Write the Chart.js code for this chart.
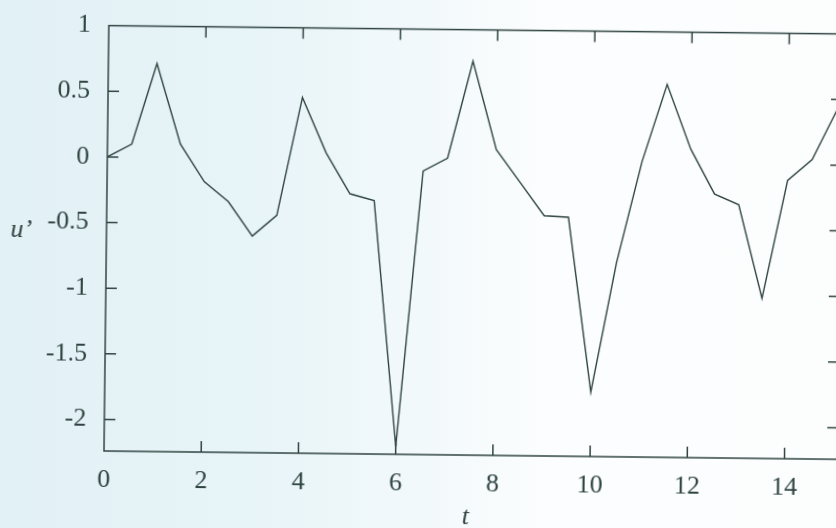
<!DOCTYPE html>
<html>
<head>
<meta charset="utf-8">
<script src="https://cdn.jsdelivr.net/npm/chart.js@4.4.1/dist/chart.umd.min.js"></script>
<style>
    html, body { margin: 0; padding: 0; overflow: hidden; width: 836px; height: 528px; }
    body { background: linear-gradient(90deg, #e2f1f6 0%, #e7f4f8 30%, #f2f9fb 50%, #fbfdfe 65%, #fcfefe 100%); }
    /* the reference is a slightly skewed scan, so tilt the page a little */
    canvas { display: block; transform-origin: 104px 451px; transform: rotate(0.65deg); }
</style>
</head>
<body>
<canvas id="chart" width="840" height="528"></canvas>
<script>
// t samples (every 0.5) and the u' values
const tValues = [0, 0.5, 1, 1.5, 2, 2.5, 3, 3.5, 4, 4.5, 5, 5.5, 6, 6.5, 7, 7.5,
    8, 8.5, 9, 9.5, 10, 10.5, 11, 11.5, 12, 12.5, 13, 13.5, 14, 14.5, 15];
const uValues = [0, 0.1, 0.715, 0.105, -0.18, -0.33, -0.59, -0.43, 0.47, 0.05, -0.26, -0.31, -2.18, -0.08, 0.02, 0.76,
    0.09, -0.16, -0.41, -0.42, -1.75, -0.76, 0.01, 0.6, 0.11, -0.23, -0.31, -1.02, -0.12, 0.04, 0.42];
const xTicks = [2, 4, 6, 8, 10, 12, 14];
const yTicks = [-2, -1.5, -1, -0.5, 0, 0.5];

const ink = "#2f4441";
const serif = "'Liberation Serif', 'DejaVu Serif', serif";

// gnuplot-like frame with inward ticks on all four sides, plus the axis names
const framePlugin = {
    id: "frame",
    afterDraw(chart) {
        const { ctx, chartArea: a, scales } = chart;
        const len = 11;
        ctx.save();
        ctx.strokeStyle = ink;
        ctx.lineWidth = 1.5;
        ctx.strokeRect(a.left, a.top, a.right - a.left, a.bottom - a.top);
        ctx.beginPath();
        for (const v of xTicks) {
            const x = scales.x.getPixelForValue(v);
            ctx.moveTo(x, a.bottom);
            ctx.lineTo(x, a.bottom - len);
            ctx.moveTo(x, a.top);
            ctx.lineTo(x, a.top + len);
        }
        for (const v of yTicks) {
            const y = scales.y.getPixelForValue(v);
            ctx.moveTo(a.left, y);
            ctx.lineTo(a.left + len, y);
            ctx.moveTo(a.right, y);
            ctx.lineTo(a.right - len, y);
        }
        ctx.stroke();

        ctx.fillStyle = ink;
        ctx.font = "italic 26px " + serif;
        ctx.textBaseline = "alphabetic";
        ctx.textAlign = "left";
        ctx.fillText("u\u2019", 8, 238);
        ctx.textAlign = "center";
        ctx.fillText("t", 466, 520);
        ctx.restore();
    },
};

const tickLabel = (v) => String(Number(v.toFixed(1)));

new Chart(document.getElementById("chart"), {
    type: "line",
    data: {
        datasets: [{
            data: tValues.map((t, i) => ({ x: t, y: uValues[i] })),
            borderColor: ink,
            borderWidth: 1.4,
            pointRadius: 0,
            tension: 0,
            fill: false,
        }],
    },
    options: {
        responsive: false,
        animation: false,
        layout: { padding: { top: 18, right: 2, left: 0, bottom: 0 } },
        plugins: { legend: { display: false }, tooltip: { enabled: false } },
        scales: {
            x: {
                type: "linear",
                min: 0,
                max: 15.1,
                grid: { display: false },
                border: { display: false },
                ticks: {
                    stepSize: 2,
                    includeBounds: false,
                    padding: 6,
                    color: ink,
                    font: { family: serif, size: 26 },
                    maxRotation: 0,
                    callback: tickLabel,
                },
                afterFit(scale) { scale.height = 77; },
            },
            y: {
                min: -2.24,
                max: 1,
                grid: { display: false },
                border: { display: false },
                ticks: {
                    stepSize: 0.5,
                    includeBounds: false,
                    padding: 10,
                    color: ink,
                    font: { family: serif, size: 26 },
                    callback: tickLabel,
                },
                afterFit(scale) { scale.width = 104; },
            },
        },
    },
    plugins: [framePlugin],
});
</script>
</body>
</html>
